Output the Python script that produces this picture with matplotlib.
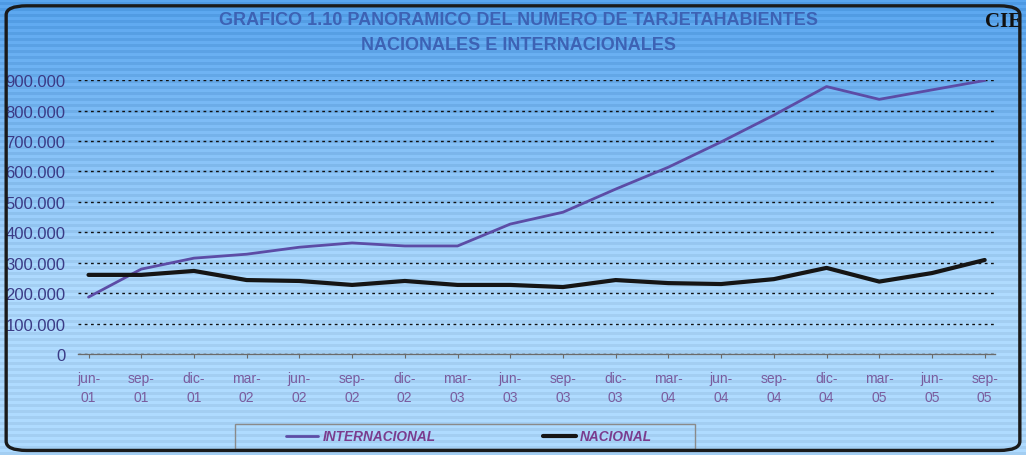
import numpy as np
import matplotlib
matplotlib.use('Agg')
import matplotlib.pyplot as plt
from matplotlib.patches import FancyBboxPatch, Rectangle
from matplotlib.ticker import FuncFormatter, MultipleLocator

# trimestres jun-01 .. sep-05
periodos = ['jun-\n01', 'sep-\n01', 'dic-\n01', 'mar-\n02', 'jun-\n02', 'sep-\n02',
            'dic-\n02', 'mar-\n03', 'jun-\n03', 'sep-\n03', 'dic-\n03', 'mar-\n04',
            'jun-\n04', 'sep-\n04', 'dic-\n04', 'mar-\n05', 'jun-\n05', 'sep-\n05']

internacional = [187000, 279000, 315000, 328000, 351000, 365000, 355000, 355000,
                 427000, 466000, 542000, 614000, 697000, 785000, 879000, 837000,
                 868000, 899000]

nacional = [260000, 260000, 273000, 243000, 240000, 227000, 240000, 227000,
            227000, 220000, 243000, 233000, 230000, 246000, 283000, 238000,
            266000, 309000]

plt.rcParams['font.family'] = ['Liberation Sans', 'DejaVu Sans']

fig = plt.figure(figsize=(10.26, 4.56), dpi=100)

# fondo azul con rayas horizontales (aspecto de la copia escaneada)
bg = fig.add_axes([0, 0, 1, 1], zorder=-10)
h = 456
t = np.linspace(0, 1, h)[:, None]
top = np.array([0.30, 0.60, 0.89])
bot = np.array([0.64, 0.81, 0.95])
img = top + (bot - top) * np.clip(t * 1.6, 0, 1)[:, :, None]
stripes = ((np.arange(h) // 3) % 2 == 0)[:, None, None]
img = np.where(stripes, np.clip(img + 0.05, 0, 1), img)
img = np.repeat(img, 8, axis=1)
bg.imshow(img, aspect='auto', extent=[0, 1, 0, 1])
bg.set_xlim(0, 1)
bg.set_ylim(0, 1)
bg.axis('off')

# marco redondeado
frame = FancyBboxPatch((0.006, 0.01), 0.988, 0.975, boxstyle='round,pad=0,rounding_size=0.02',
                       transform=fig.transFigure, fill=False, edgecolor='#1a1a1a',
                       linewidth=2.4, zorder=5)
fig.patches.append(frame)

ax = fig.add_axes([0.076, 0.2215, 0.894, 0.6005])
ax.patch.set_alpha(0)
x = np.arange(len(periodos))

ax.plot(x, internacional, color='#5c4ca6', linewidth=2.0, label='INTERNACIONAL',
        solid_capstyle='round', zorder=3)
ax.plot(x, nacional, color='#151515', linewidth=3.0, label='NACIONAL',
        solid_capstyle='round', zorder=3)

ax.set_xlim(-0.2, len(periodos) - 1 + 0.2)
ax.set_ylim(0, 900000)
ax.yaxis.set_major_locator(MultipleLocator(100000))
ax.yaxis.set_major_formatter(FuncFormatter(lambda v, p: f'{int(v):,}'.replace(',', '.')))
ax.grid(axis='y', color='#111111', linestyle=(0, (2, 2.5)), linewidth=1.0)
ax.set_axisbelow(True)

for s in ['top', 'right', 'left']:
    ax.spines[s].set_visible(False)
ax.spines['bottom'].set_color('#6a6a6a')
ax.spines['bottom'].set_linewidth(1.0)

ax.set_xticks(x)
ax.set_xticklabels(periodos, fontsize=10, color='#7a5c9e', linespacing=1.5)
ax.tick_params(axis='x', direction='out', length=3, color='#6a6a6a', pad=9)
ax.tick_params(axis='y', length=0, labelsize=12, labelcolor='#3b3b86', pad=9)

fig.text(0.505, 0.955, 'GRAFICO 1.10 PANORAMICO DEL NUMERO DE TARJETAHABIENTES',
         ha='center', va='center', fontsize=13, fontweight='bold', color='#3d62b4')
fig.text(0.505, 0.9, 'NACIONALES E INTERNACIONALES',
         ha='center', va='center', fontsize=13, fontweight='bold', color='#3d62b4')
fig.text(0.96, 0.952, 'CIE', ha='left', va='center', fontsize=15, fontweight='bold',
         color='#111111', family=['Liberation Serif', 'DejaVu Serif'])

# caja de la leyenda
fig.patches.append(Rectangle((235 / 1026, 1 - 450 / 456), 460 / 1026, 25 / 456,
                             transform=fig.transFigure, fill=False,
                             edgecolor='#8a8a8a', linewidth=1.0, zorder=4))
leg = fig.legend(loc='center', bbox_to_anchor=(0.457, 0.041), ncol=2, frameon=False,
                 fontsize=9.8, handlelength=2.4, handletextpad=0.3, columnspacing=7.9)
for txt in leg.get_texts():
    txt.set_color('#7a3c8e')
    txt.set_fontstyle('italic')
    txt.set_fontweight('bold')

fig.savefig('out.png', dpi=100)
